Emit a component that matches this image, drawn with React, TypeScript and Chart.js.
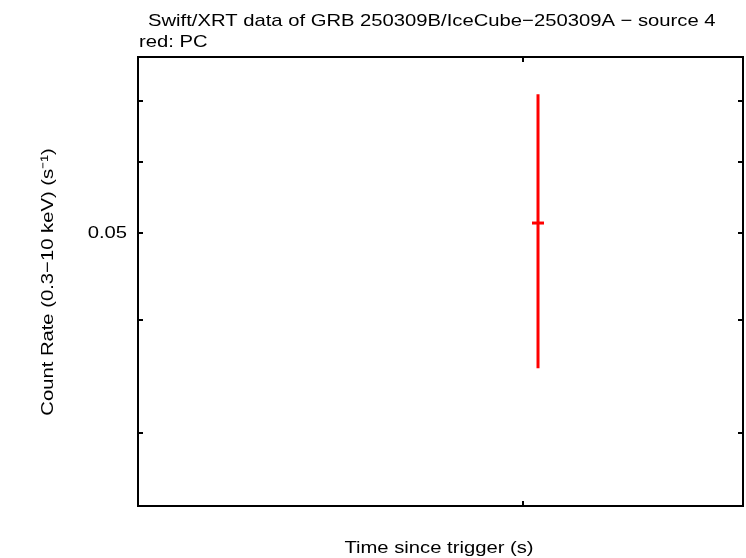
import React, { useEffect, useRef } from "react";
import { Chart, registerables } from "chart.js";

Chart.register(...registerables);

// ---- data ----
const TITLE = "Swift/XRT data of GRB 250309B/IceCube\u2212250309A \u2212 source 4";
const SUBTITLE = "red: PC";
const X_LABEL = "Time since trigger (s)";
const Y_LABEL = "Count Rate (0.3\u221210 keV) (s\u207B\u00B9)";

const TIME = [103900];
const TIME_ERR_LO = [1560];
const TIME_ERR_HI = [1560];
const RATE = [0.0513];
const RATE_LO = [0.0354];
const RATE_HI = [0.0713];

const X_MIN = 0;
const X_MAX = 157143;
const X_TICKS = [100000];
const Y_MIN = 0.0249;
const Y_MAX = 0.0784;
const Y_TICKS = [0.03, 0.04, 0.05, 0.06, 0.07];
const Y_TICK_LABELS: Record<string, string> = { "0.05": "0.05" };

const FONT = "'Liberation Sans', Arial, Helvetica, sans-serif";
const SX = 1.19;

function txt(ctx: any, s: string, x: number, y: number, align: string, rot = 0) {
  ctx.save();
  ctx.translate(x, y);
  if (rot) ctx.rotate(rot);
  ctx.scale(SX, 1);
  ctx.textAlign = align;
  ctx.fillText(s, 0, 0);
  ctx.restore();
}

const framePlugin = {
  id: "frameAndLabels",
  afterDatasetsDraw(chart: any) {
    const { ctx, chartArea } = chart;
    const xs = chart.scales.x;
    const ys = chart.scales.y;
    const { left, right, top, bottom } = chartArea;
    ctx.save();
    ctx.strokeStyle = "#000";
    ctx.lineWidth = 2;
    ctx.strokeRect(left, top, right - left, bottom - top);
    const tl = 5;
    ctx.beginPath();
    for (const v of Y_TICKS) {
      const y = Math.round(ys.getPixelForValue(v));
      ctx.moveTo(left, y);
      ctx.lineTo(left + tl, y);
      ctx.moveTo(right, y);
      ctx.lineTo(right - tl, y);
    }
    for (const v of X_TICKS) {
      const x = Math.round(xs.getPixelForValue(v));
      ctx.moveTo(x, bottom);
      ctx.lineTo(x, bottom - tl);
      ctx.moveTo(x, top);
      ctx.lineTo(x, top + tl);
    }
    ctx.stroke();

    ctx.fillStyle = "#000";
    ctx.font = `17px ${FONT}`;
    ctx.textBaseline = "middle";
    for (const v of Y_TICKS) {
      const lab = Y_TICK_LABELS[String(v)];
      if (lab) txt(ctx, lab, left - 11, ys.getPixelForValue(v), "right");
    }
    ctx.textBaseline = "alphabetic";
    txt(ctx, TITLE, 148, 26, "left");
    txt(ctx, SUBTITLE, 139, 47, "left");
    txt(ctx, X_LABEL, 439, 553, "center");
    txt(ctx, Y_LABEL, 53, 282, "center", -Math.PI / 2);
    ctx.restore();
  },
};

export default function App() {
  const ref = useRef<HTMLCanvasElement>(null);
  useEffect(() => {
    document.body.style.margin = "0";
    const i = 0;
    const chart = new Chart(ref.current!, {
      type: "scatter",
      data: {
        datasets: [
          {
            data: [
              { x: TIME[i], y: RATE_LO[i] },
              { x: TIME[i], y: RATE_HI[i] },
            ],
            showLine: true,
            borderColor: "#ff0000",
            borderWidth: 3,
            pointRadius: 0,
            borderCapStyle: "butt",
          },
          {
            data: [
              { x: TIME[i] - TIME_ERR_LO[i], y: RATE[i] },
              { x: TIME[i] + TIME_ERR_HI[i], y: RATE[i] },
            ],
            showLine: true,
            borderColor: "#ff0000",
            borderWidth: 3,
            pointRadius: 0,
            borderCapStyle: "butt",
          },
        ],
      },
      options: {
        responsive: false,
        animation: false,
        layout: { padding: { left: 138, top: 57, right: 3, bottom: 52 } },
        plugins: { legend: { display: false }, tooltip: { enabled: false } },
        scales: {
          x: { type: "linear", min: X_MIN, max: X_MAX, display: false },
          y: { type: "logarithmic", min: Y_MIN, max: Y_MAX, display: false },
        },
      },
      plugins: [framePlugin],
    } as any);
    return () => chart.destroy();
  }, []);
  return <canvas ref={ref} width={746} height={558} style={{ display: "block" }} />;
}
